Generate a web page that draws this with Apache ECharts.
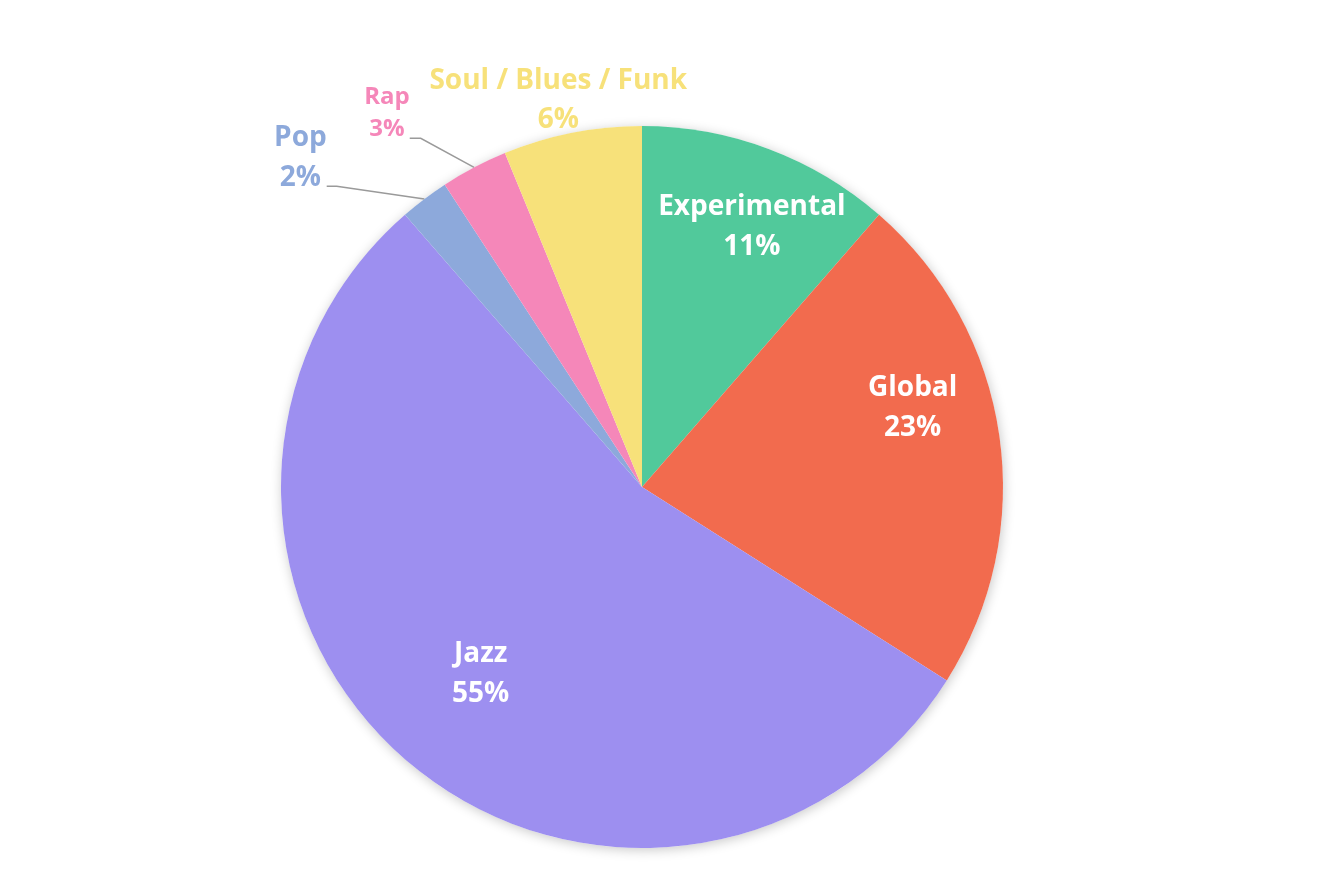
<!DOCTYPE html>
<html><head><meta charset="utf-8">
<script src="https://cdn.jsdelivr.net/npm/echarts@6/dist/echarts.min.js"></script>
<style>html,body{margin:0;padding:0;background:#fff}#c{width:1333px;height:877px}</style>
</head><body><div id="c"></div>
<script>
const categories = ['Experimental', 'Global', 'Jazz', 'Pop', 'Rap', 'Soul / Blues / Funk'];
const shares = [11.4, 22.6, 54.6, 2.2, 3.0, 6.2];
const colors = ['#51C99B', '#F26B4E', '#9D8FF0', '#8DA9DB', '#F587B9', '#F7E17A'];
const insideCategories = ['Experimental', 'Global', 'Jazz'];

const FONT = '"Open Sans", "Noto Sans", sans-serif';
const CX = 642, CY = 487, R = 361;

// label styling per category (no data here)
const insideStyle = {
  'Experimental': { padding: [0, 0, 8, 28] },
  'Global': { padding: [0, 0, 80, 0] },
  'Jazz': { padding: [0, 0, 40, 34] }
};
const outsideStyle = {
  'Pop': { fontSize: 28, lineHeight: 40, padding: [0, 0, 56, 0], distance: 0, length: 16, length2: 88, tail: 10, line: true },
  'Rap': { fontSize: 24, lineHeight: 32, padding: [0, 0, 50, 0], distance: 0, length: 33, length2: 49, tail: 11, line: true },
  'Soul / Blues / Funk': { fontSize: 28, lineHeight: 39, padding: [0, 0, 64, 0], distance: 5, length: 0, length2: -120, tail: 0, line: false }
};

const fmt = p => '{t|' + p.name + '}\n{t|' + Math.round(p.value) + '%}';

const mainData = categories.map((name, i) => {
  const item = { name, value: shares[i], itemStyle: { color: colors[i] } };
  const s = outsideStyle[name];
  if (s) {
    item.label = {
      show: true, position: 'outside', color: colors[i],
      distanceToLabelLine: s.distance, padding: s.padding,
      formatter: fmt,
      rich: { t: { fontFamily: FONT, fontWeight: 'bold', fontSize: s.fontSize, lineHeight: s.lineHeight, color: colors[i], align: 'center' } }
    };
    item.labelLine = { show: s.line, length: s.length, length2: s.length2, lineStyle: { color: '#9a9a9a', width: 1.5 } };
  } else {
    item.label = { show: false };
    item.labelLine = { show: false };
  }
  return item;
});

const overlayData = categories.map((name, i) => {
  const item = { name, value: shares[i], itemStyle: { color: 'rgba(0,0,0,0)' } };
  if (insideCategories.includes(name)) {
    item.label = {
      show: true, position: 'inside', padding: insideStyle[name].padding,
      formatter: fmt,
      rich: { t: { fontFamily: FONT, fontWeight: 'bold', fontSize: 28, lineHeight: 40, color: '#fff', align: 'center' } }
    };
  } else {
    item.label = { show: false };
  }
  return item;
});

const total = shares.reduce((a, b) => a + b, 0);

const chart = echarts.init(document.getElementById('c'), null, { renderer: 'canvas' });
chart.setOption({
  backgroundColor: '#ffffff',
  animation: false,
  series: [
    {
      type: 'pie', silent: true, center: [CX, CY], radius: R, z: 1,
      data: [{ name: 'bg', value: total }],
      itemStyle: { color: '#ffffff', shadowBlur: 12, shadowColor: 'rgba(0,0,0,0.22)', shadowOffsetX: 1, shadowOffsetY: 2 },
      label: { show: false }, labelLine: { show: false }
    },
    {
      type: 'pie', center: [CX, CY], radius: R, z: 2,
      startAngle: 90, clockwise: true, avoidLabelOverlap: false,
      itemStyle: { borderWidth: 0 },
      data: mainData,
      labelLayout: function (p) {
        const s = outsideStyle[categories[p.dataIndex]];
        const pts = p.labelLinePoints;
        if (!s || !s.line || !pts || pts.length < 3) return {};
        // keep the library's start (slice edge) and end (label) points,
        // draw a straight run from the slice to a short horizontal tail
        const p0 = pts[0], p2 = pts[2];
        return { labelLinePoints: [p0, [p2[0] + s.tail, p2[1]], p2] };
      }
    },
    {
      type: 'pie', silent: true, center: [CX, CY], radius: [180, R], z: 3,
      startAngle: 90, clockwise: true, avoidLabelOverlap: false,
      itemStyle: { borderWidth: 0 },
      labelLine: { show: false },
      data: overlayData
    }
  ]
});
</script></body></html>
